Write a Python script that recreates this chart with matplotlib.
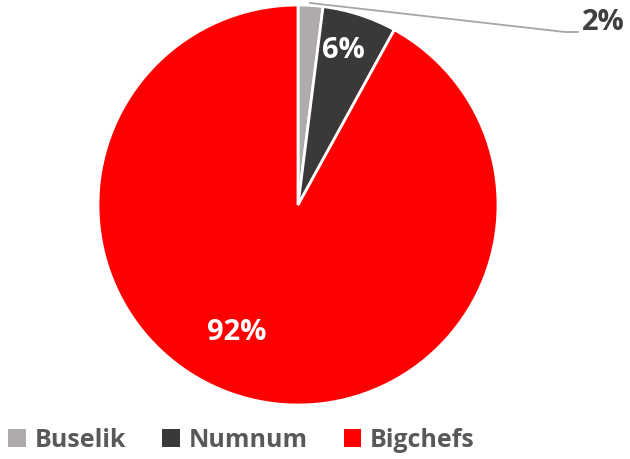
import matplotlib.pyplot as plt
from matplotlib.patches import Patch

labels = ['Buselik', 'Numnum', 'Bigchefs']
shares = [2, 6, 92]
colors = ['#AFABAB', '#3B3838', '#FF0000']

W, H = 630, 459
fig = plt.figure(figsize=(W / 100, H / 100), dpi=100)
# pie box in pixels: x 98..498, y 5..405 (from top)
ax = fig.add_axes([98 / W, (H - 405) / H, 400 / W, 400 / H])

wedges, _ = ax.pie(shares, colors=colors, startangle=90, counterclock=False,
                   wedgeprops=dict(edgecolor='white', linewidth=2))
ax.set_xlim(-1, 1)
ax.set_ylim(-1, 1)
ax.set_aspect('equal')

font = dict(family=['Open Sans', 'DejaVu Sans'], fontweight='bold')

# inside labels
ax.text(0.225, 0.775, f'{shares[1]}%', color='white', fontsize=21, ha='center', va='center', **font)
ax.text(-0.305, -0.64, f'{shares[2]}%', color='white', fontsize=21, ha='center', va='center', **font)

# outside label with leader line
ax.plot([0.06, 1.335, 1.40], [1.01, 0.865, 0.865], color='#A6A6A6', lw=1.3, clip_on=False)
ax.text(1.42, 0.915, f'{shares[0]}%', color='#404040', fontsize=21, ha='left', va='center',
        clip_on=False, **font)

handles = [Patch(facecolor=c, edgecolor='none') for c in colors]
leg = fig.legend(handles, labels, loc='lower left', bbox_to_anchor=(2 / W, 0.0), ncol=3,
                 frameon=False, handlelength=0.7, handleheight=0.7, handletextpad=0.35,
                 columnspacing=1.45, borderaxespad=0.0, borderpad=0.25,
                 prop=dict(family=['Open Sans', 'DejaVu Sans'], weight='bold', size=18))
for t in leg.get_texts():
    t.set_color('#595959')

fig.savefig('out.png', dpi=100)
